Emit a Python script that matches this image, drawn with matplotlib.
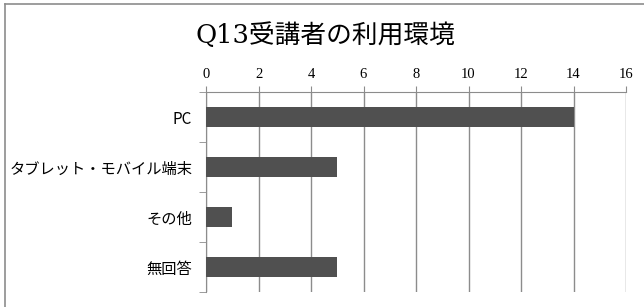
import matplotlib
matplotlib.use("Agg")
import matplotlib.pyplot as plt
from matplotlib.lines import Line2D
from matplotlib.ticker import FixedLocator

categories = ["PC", "タブレット・モバイル端末", "その他", "無回答"]
values = [14, 5, 1, 5]
xticks = [0, 2, 4, 6, 8, 10, 12, 14, 16]
title = "Q13受講者の利用環境"

plt.rcParams['font.family'] = ['Noto Sans CJK JP', 'DejaVu Sans']

fig = plt.figure(figsize=(6.44, 3.07), dpi=100)
fig.patch.set_facecolor("white")
# outer frame (only left and top visible in the reference crop)
fig.add_artist(Line2D([5/644, 5/644], [0, 1-4/307], transform=fig.transFigure,
                      color="#8c8c8c", linewidth=1.2))
fig.add_artist(Line2D([5/644, 1], [1-4/307, 1-4/307], transform=fig.transFigure,
                      color="#8c8c8c", linewidth=1.2))

ax = fig.add_axes([206/644, 1-292/307, 420/644, 200/307])
ypos = list(range(len(categories)))
ax.barh(ypos, values, height=0.4, color="#505050", zorder=3)
ax.set_ylim(len(categories)-0.5, -0.5)
ax.set_xlim(0, 16)
ax.xaxis.set_major_locator(FixedLocator(xticks))
ax.xaxis.tick_top()
ax.set_xticklabels([str(t) for t in xticks], family=['Liberation Serif', 'DejaVu Serif'], fontsize=10.5)
ax.tick_params(axis='x', direction='out', length=4, color="#8c8c8c", pad=4)
ax.grid(axis='x', color="#8c8c8c", linewidth=1.0, zorder=0)

ax.set_yticks(ypos)
ax.set_yticklabels(categories, fontsize=11)
ax.yaxis.set_minor_locator(FixedLocator([-0.5, 0.5, 1.5, 2.5, 3.5]))
ax.tick_params(axis='y', which='major', length=0, pad=10)
ax.tick_params(axis='y', which='minor', length=5, color="#8c8c8c", direction='out')

for s in ['right', 'bottom']:
    ax.spines[s].set_visible(False)
for s in ['top', 'left']:
    ax.spines[s].set_color("#8c8c8c")

fig.text(325/644, 1-35/307, title, ha='center', va='center', fontsize=18.5,
         family=['DejaVu Serif', 'Noto Sans CJK JP'])

fig.savefig("out.png", dpi=100)
